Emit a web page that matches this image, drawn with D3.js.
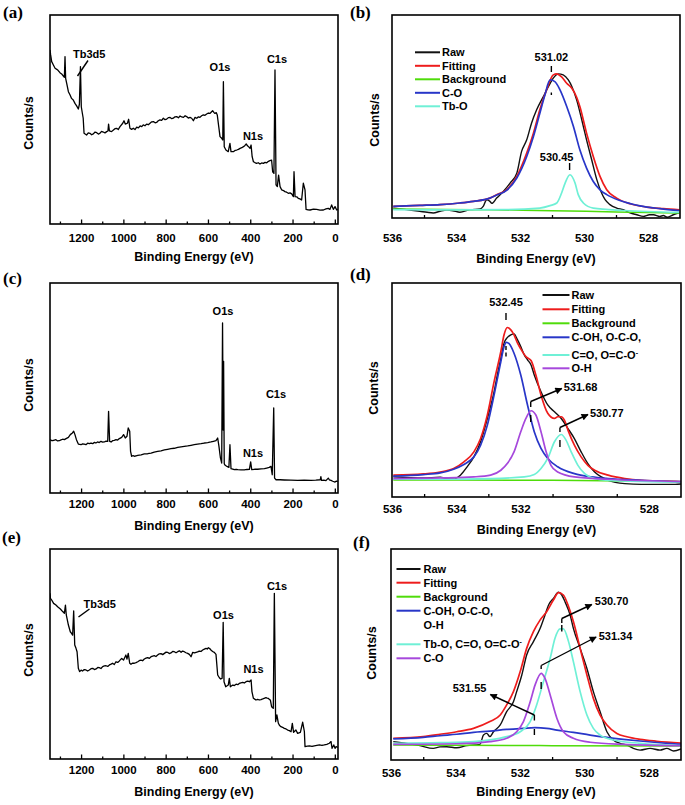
<!DOCTYPE html>
<html><head><meta charset="utf-8">
<script src="https://cdn.jsdelivr.net/npm/d3@7"></script>
<style>
body{margin:0;background:#fff}
svg{display:block}
text{font-family:"Liberation Sans",Arial,sans-serif;font-weight:bold;fill:#000}
</style>
</head><body>
<svg id="chart" width="685" height="805"></svg>
<script>
// ---------- DATA ----------
const surveyTicks = [1200, 1000, 800, 600, 400, 200, 0];
const surveyMinor = [1300, 1100, 900, 700, 500, 300, 100];
const hrTicks = [536, 534, 532, 530, 528];
const hrMinor = [535, 533, 531, 529];

// (a) survey spectrum [binding energy eV, counts (rel.)]
const surveyA = [[1347,83.3],[1344,80.9],[1339,77.7],[1331,76.1],[1323,74.5],[1315,74.0],[1308,73.4],[1300,72.4],[1292,71.8],[1284,70.8],[1279,70.2],[1276,80.1],[1273,69.7],[1268,67.3],[1260,63.3],[1252,61.7],[1245,60.1],[1237,59.3],[1229,57.7],[1221,56.5],[1213,55.0],[1208,57.3],[1203,75.3],[1199,56.1],[1194,53.0],[1190,50.6],[1186,43.4],[1174,42.6],[1166,43.6],[1158,43.4],[1150,42.7],[1142,43.1],[1134,44.0],[1126,43.7],[1118,43.0],[1111,43.4],[1103,44.3],[1095,44.0],[1087,43.6],[1079,44.2],[1073,44.5],[1070,47.8],[1066,44.5],[1056,44.2],[1047,45.0],[1040,45.6],[1032,45.8],[1024,45.2],[1016,46.6],[1003,48.2],[997,49.4],[991,47.8],[981,48.2],[975,50.1],[969,45.8],[961,45.3],[953,45.8],[945,45.2],[937,46.3],[929,46.0],[921,46.9],[913,46.6],[906,47.4],[898,47.0],[890,47.8],[882,47.5],[874,48.2],[866,48.9],[858,49.0],[850,48.4],[843,48.6],[835,49.4],[827,49.8],[819,49.6],[811,50.6],[803,49.9],[795,50.2],[787,50.9],[779,51.0],[771,50.4],[764,50.6],[756,51.3],[748,51.4],[740,50.8],[732,51.7],[724,51.2],[716,51.0],[708,51.8],[701,51.4],[693,50.7],[685,51.0],[677,50.6],[669,49.4],[661,51.0],[653,50.6],[645,51.3],[638,51.0],[630,51.8],[622,52.2],[614,52.0],[606,52.6],[598,53.1],[590,52.9],[584,53.6],[578,54.2],[572,53.4],[567,52.9],[561,53.3],[556,52.2],[549,46.6],[543,41.8],[535,41.0],[530,40.2],[527,68.1],[523,37.0],[515,35.4],[504,34.6],[496,38.6],[491,34.6],[480,34.6],[472,35.2],[464,35.4],[456,35.7],[448,36.2],[440,36.5],[432,37.0],[425,37.6],[419,38.3],[413,37.4],[408,37.0],[401,36.2],[396,37.8],[391,32.2],[385,29.8],[378,29.4],[370,29.0],[362,29.3],[354,28.7],[346,29.2],[338,29.0],[330,29.5],[322,29.3],[314,30.0],[307,30.3],[299,30.6],[294,25.0],[288,24.2],[283,73.7],[278,18.7],[272,17.9],[266,23.4],[259,17.9],[251,16.3],[243,16.0],[236,15.5],[228,15.2],[220,14.7],[212,14.9],[204,14.4],[196,13.1],[193,25.0],[188,13.1],[180,13.0],[173,12.3],[165,12.0],[157,11.5],[149,19.5],[141,16.3],[136,7.0],[127,6.8],[117,6.7],[101,7.1],[86,7.0],[70,6.6],[54,6.7],[42,7.2],[31,7.5],[23,7.0],[15,9.1],[7,7.0],[-1,8.3],[-9,6.7],[-14,7.0]];

// (c) survey spectrum
const surveyC = [[1347,25.4],[1340,25.0],[1334,24.9],[1326,25.2],[1319,25.4],[1311,24.8],[1303,24.9],[1295,25.3],[1287,25.6],[1279,25.4],[1271,25.9],[1260,26.5],[1251,27.8],[1241,28.6],[1235,29.4],[1229,27.8],[1222,25.4],[1213,23.3],[1200,23.0],[1193,23.4],[1185,23.3],[1177,23.0],[1169,23.7],[1161,23.5],[1153,23.8],[1145,23.5],[1137,24.1],[1130,23.8],[1122,24.3],[1114,24.0],[1106,24.6],[1098,24.2],[1090,24.3],[1082,24.7],[1074,24.6],[1070,38.9],[1065,24.6],[1058,24.3],[1051,24.9],[1043,25.1],[1035,25.4],[1027,25.2],[1019,25.9],[1008,26.5],[999,27.8],[991,26.2],[983,27.0],[977,31.0],[970,29.4],[966,19.8],[961,17.5],[954,17.8],[948,17.5],[940,17.7],[932,17.9],[916,18.2],[901,18.6],[885,18.7],[869,19.0],[854,19.5],[838,19.8],[822,20.1],[806,20.5],[791,20.8],[775,21.1],[759,21.3],[743,21.7],[727,22.0],[712,22.2],[696,22.4],[680,22.7],[665,23.0],[649,23.3],[633,23.5],[617,23.8],[601,24.0],[586,24.3],[574,24.6],[562,24.9],[554,26.2],[548,22.2],[541,16.7],[535,14.3],[531,81.0],[528,30.0],[526,62.7],[523,14.0],[521,13.5],[515,13.0],[510,12.7],[501,12.2],[496,23.0],[491,11.6],[483,11.4],[475,11.1],[467,11.3],[459,11.1],[444,11.0],[428,11.0],[416,11.2],[404,11.3],[398,14.8],[393,11.1],[380,11.3],[365,11.3],[349,11.5],[333,11.6],[322,11.9],[310,12.2],[302,12.7],[296,8.7],[289,40.5],[285,7.1],[278,6.3],[259,6.3],[239,6.2],[208,6.1],[176,6.0],[145,6.1],[113,6.0],[90,6.1],[69,6.3],[66,7.8],[63,6.0],[52,6.1],[42,5.9],[31,7.1],[26,6.3],[18,6.0],[10,5.6],[-1,5.2],[-6,5.6],[-14,5.5]];

// (e) survey spectrum
const surveyE = [[1347,78.9],[1345,76.5],[1339,75.7],[1330,74.1],[1319,73.3],[1311,72.5],[1298,71.4],[1287,70.2],[1279,69.4],[1274,73.3],[1270,68.6],[1260,63.8],[1251,60.6],[1245,59.8],[1240,59.0],[1235,70.5],[1230,54.3],[1224,52.7],[1219,51.1],[1213,43.2],[1207,41.6],[1200,42.3],[1193,41.9],[1185,42.6],[1177,42.4],[1169,41.9],[1161,42.4],[1153,43.0],[1145,43.2],[1137,42.6],[1129,42.9],[1121,43.6],[1114,43.5],[1106,43.1],[1098,44.0],[1090,44.3],[1082,44.4],[1074,44.1],[1066,44.8],[1058,45.2],[1051,45.6],[1043,45.0],[1035,46.3],[1027,46.0],[1019,46.7],[1008,47.9],[999,47.1],[988,49.5],[983,47.6],[977,50.3],[970,45.6],[964,45.1],[956,45.7],[948,45.6],[940,45.9],[932,46.3],[925,46.8],[917,47.1],[909,46.8],[901,47.6],[893,48.0],[885,48.3],[877,47.9],[869,48.7],[861,49.0],[854,49.2],[846,48.8],[838,49.5],[830,50.1],[822,50.2],[814,49.7],[806,50.3],[798,50.9],[791,50.8],[783,50.2],[775,50.5],[767,51.2],[759,51.1],[751,50.6],[743,51.1],[735,51.5],[727,50.8],[720,51.4],[712,51.1],[704,50.6],[696,50.3],[688,49.8],[680,48.7],[672,50.8],[664,50.5],[656,50.8],[649,51.0],[641,51.4],[633,51.2],[625,51.9],[617,52.3],[609,52.7],[603,52.4],[598,53.0],[592,52.6],[586,51.9],[578,51.2],[570,50.8],[562,49.8],[554,40.0],[546,38.7],[540,38.1],[533,38.4],[528,65.1],[524,36.8],[516,34.4],[504,35.2],[499,38.4],[494,34.4],[483,35.2],[475,35.0],[467,35.6],[459,35.4],[452,36.0],[444,36.3],[436,36.5],[428,36.2],[420,36.8],[412,37.1],[404,36.8],[396,37.6],[392,32.1],[385,28.9],[379,28.5],[373,28.1],[365,28.4],[357,28.1],[349,28.3],[341,28.6],[334,28.9],[326,29.2],[320,29.0],[315,28.9],[310,28.4],[305,28.1],[299,24.9],[291,24.1],[286,78.9],[280,17.8],[274,21.0],[267,17.0],[261,15.9],[255,15.4],[247,15.1],[239,14.6],[231,14.3],[223,13.8],[215,13.5],[207,13.0],[201,17.0],[195,12.7],[184,13.8],[176,12.2],[163,12.7],[152,17.5],[144,13.0],[141,5.9],[130,6.1],[120,6.2],[108,6.0],[97,6.3],[85,6.5],[73,6.7],[61,6.5],[50,6.7],[38,7.0],[26,7.5],[18,8.3],[13,5.1],[5,6.7],[-1,5.1],[-6,5.9],[-14,5.5]];

// (b) O1s high resolution
const bRaw = [[535.96,4.9],[535.54,4.1],[535.13,3.3],[534.90,2.8],[534.71,2.5],[534.50,3.3],[534.29,3.9],[534.10,3.6],[533.88,2.8],[533.56,4.1],[533.25,4.4],[533.15,5.7],[533.04,9.0],[532.94,8.2],[532.88,7.2],[532.73,9.8],[532.52,13.1],[532.31,17.2],[532.10,22.1],[531.95,32.8],[531.79,38.5],[531.64,46.7],[531.48,53.3],[531.27,59.8],[531.11,64.8],[530.96,68.9],[530.80,71.0],[530.65,70.5],[530.49,68.0],[530.38,64.8],[530.23,58.2],[530.07,48.4],[529.92,38.5],[529.76,28.7],[529.60,18.9],[529.45,12.3],[529.34,9.0],[529.19,6.6],[528.98,4.9],[528.77,4.1],[528.56,2.5],[528.35,1.6],[528.15,0.8],[527.95,1.6],[527.83,1.6],[527.63,0.8],[527.52,1.2],[527.40,0.4],[527.21,1.6],[527.02,2.5]];
const bFit = [[535.96,5.7],[535.13,6.2],[534.50,6.6],[533.88,7.4],[533.46,8.2],[532.94,9.8],[532.73,11.5],[532.42,13.9],[532.10,20.5],[531.79,32.0],[531.58,41.8],[531.38,53.3],[531.17,63.1],[530.96,70.5],[530.85,71.0],[530.70,69.5],[530.54,66.4],[530.38,63.9],[530.23,59.5],[530.13,54.9],[529.92,41.8],[529.71,30.3],[529.50,20.5],[529.29,13.9],[528.98,9.8],[528.56,7.0],[528.04,5.4],[527.52,4.6],[527.02,4.0]];
const bBackground = [[535.96,4.4],[533.5,4.1],[531.0,3.6],[529.0,3.0],[527.02,2.5]];
const bCO = [[535.96,5.7],[535.13,6.2],[534.50,6.6],[533.88,7.4],[533.46,8.2],[532.94,9.8],[532.73,11.3],[532.42,13.6],[532.10,19.7],[531.79,30.3],[531.58,40.2],[531.38,51.6],[531.22,60.7],[531.06,68.0],[530.91,67.2],[530.75,63.1],[530.54,54.9],[530.33,45.1],[530.13,33.6],[529.92,24.6],[529.71,18.0],[529.50,13.9],[529.29,11.5],[528.88,8.6],[528.25,6.0],[527.63,4.6],[527.02,3.6]];
const bTbO = [[535.96,4.1],[534.0,4.0],[532.5,4.1],[531.38,4.9],[531.06,6.1],[530.85,7.4],[530.70,12.3],[530.59,17.2],[530.44,21.3],[530.28,17.2],[530.18,11.5],[530.02,7.4],[529.71,4.9],[528.77,3.7],[527.02,2.8]];
const bPeaks = [531.02, 530.45];

// (d) O1s high resolution
const dRaw = [[535.96,9.4],[535.02,8.9],[534.50,9.2],[534.29,8.6],[534.08,8.4],[533.87,10.2],[533.66,14.1],[533.45,18.75],[533.24,25.8],[533.03,36.7],[532.82,49.2],[532.72,57.0],[532.61,64.8],[532.51,71.9],[532.41,74.5],[532.30,75.8],[532.20,76.25],[532.09,73.4],[531.99,70.3],[531.88,66.4],[531.78,64.1],[531.67,61.7],[531.57,57.0],[531.36,49.2],[531.15,43.0],[530.94,39.8],[530.73,36.7],[530.52,32.0],[530.32,27.3],[530.11,21.1],[529.90,15.6],[529.69,11.7],[529.48,9.4],[529.27,7.8],[528.75,6.25],[528.23,5.9],[527.70,5.9],[527.18,5.9],[527.0,6.1]];
const dFit = [[535.96,10.2],[535.02,10.8],[534.50,11.7],[534.08,13.3],[533.76,16.4],[533.45,21.1],[533.24,27.3],[533.03,38.3],[532.82,53.9],[532.61,68.0],[532.51,75.8],[532.41,79.2],[532.30,78.1],[532.20,75.8],[532.09,71.9],[531.99,69.2],[531.83,65.6],[531.67,63.75],[531.52,57.0],[531.36,47.7],[531.15,39.1],[530.94,36.7],[530.84,37.5],[530.73,37.5],[530.63,35.9],[530.52,31.25],[530.32,24.2],[530.11,18.75],[529.90,14.8],[529.69,12.5],[529.27,10.2],[528.75,8.6],[528.23,7.8],[527.18,7.3],[527.0,7.0]];
const dBackground = [[535.96,8.0],[531.0,7.8],[527.0,7.3]];
const dCOH = [[535.96,9.8],[535.02,10.5],[534.50,11.25],[534.08,13.0],[533.76,15.2],[533.45,18.75],[533.24,24.2],[533.03,33.6],[532.82,47.7],[532.61,63.3],[532.51,70.3],[532.44,72.3],[532.35,71.6],[532.20,67.2],[531.99,57.0],[531.78,43.0],[531.57,30.5],[531.36,22.7],[531.15,18.0],[530.84,14.1],[530.32,10.9],[529.79,9.4],[529.27,8.6],[528.23,7.8],[527.0,7.0]];
const dCO = [[535.96,8.3],[534.50,8.3],[532.93,8.6],[531.88,9.4],[531.57,10.5],[531.36,13.3],[531.15,18.0],[530.94,25.8],[530.73,29.2],[530.58,26.6],[530.42,21.1],[530.21,14.8],[530.0,10.9],[529.69,8.6],[529.27,7.8],[527.0,7.0]];
const dOH = [[535.96,8.6],[534.50,8.9],[533.45,9.4],[532.93,10.2],[532.61,12.5],[532.41,15.6],[532.20,21.1],[531.99,30.5],[531.83,36.7],[531.67,40.3],[531.52,38.3],[531.36,30.5],[531.20,21.1],[531.05,14.8],[530.84,11.7],[530.32,9.4],[529.27,8.3],[527.0,7.3]];
const dPeaks = [532.45, 531.68, 530.77];

// (f) O1s high resolution
const fRaw = [[535.93,8.7],[535.51,7.9],[535.10,6.8],[534.69,5.5],[534.48,6.2],[534.27,6.3],[533.96,5.8],[533.65,6.8],[533.24,7.4],[533.13,11.8],[533.03,12.6],[532.93,11.1],[532.82,13.4],[532.61,16.6],[532.41,22.9],[532.20,27.6],[532.10,32.4],[531.94,40.3],[531.79,49.8],[531.58,56.1],[531.37,62.4],[531.22,68.7],[531.11,73.5],[530.96,76.6],[530.80,79.5],[530.70,78.2],[530.60,75.0],[530.44,68.7],[530.34,62.4],[530.13,52.9],[529.92,43.4],[529.72,32.4],[529.51,22.9],[529.30,13.4],[529.10,9.5],[528.89,7.9],[528.68,7.1],[528.48,5.5],[528.27,4.7],[527.96,5.5],[527.65,4.7],[527.44,5.5],[527.23,4.3],[527.0,5.2]];
const fFit = [[535.93,10.3],[535.0,11.1],[534.48,12.2],[533.96,13.4],[533.44,15.0],[532.93,18.2],[532.61,21.3],[532.41,26.1],[532.20,32.4],[531.99,41.9],[531.79,52.9],[531.58,60.8],[531.37,66.4],[531.17,70.3],[530.96,75.8],[530.80,79.3],[530.65,78.2],[530.49,72.7],[530.34,65.6],[530.13,52.9],[529.92,40.3],[529.72,29.2],[529.51,21.3],[529.30,16.6],[528.99,12.6],[528.68,11.0],[528.27,9.8],[527.75,8.9],[527.0,8.0]];
const fBackground = [[535.93,7.1],[531.0,6.8],[527.0,6.6]];
const fCOH = [[535.93,10.0],[535.0,10.7],[534.48,11.5],[533.96,12.2],[533.44,13.1],[532.93,13.7],[532.41,14.5],[531.89,15.0],[531.53,15.3],[531.17,15.0],[530.85,14.2],[530.34,13.1],[529.82,11.8],[529.30,10.7],[528.79,9.8],[528.27,9.0],[527.75,8.3],[527.0,7.4]];
const fTbO = [[535.93,7.9],[534.48,8.2],[533.44,8.7],[532.93,9.5],[532.41,11.1],[531.99,13.4],[531.68,18.2],[531.48,26.1],[531.27,37.1],[531.06,48.2],[530.91,57.7],[530.75,62.1],[530.65,62.1],[530.49,56.1],[530.34,46.6],[530.13,32.4],[529.92,21.3],[529.72,15.0],[529.51,11.8],[529.10,9.5],[528.27,7.9],[527.0,6.8]];
const fCO = [[535.93,7.4],[533.96,7.7],[532.93,8.7],[532.41,10.3],[532.10,13.4],[531.89,18.2],[531.68,27.6],[531.53,35.5],[531.34,41.1],[531.22,38.7],[531.06,30.8],[530.85,19.7],[530.65,13.4],[530.34,10.3],[529.82,8.4],[528.79,7.4],[527.0,6.8]];
const fPeaks = [530.70, 531.34, 531.55];

// ---------- STYLE ----------
const C = {raw:'#111111', fit:'#ee1c1c', bg:'#4fdc0a', blue:'#2836c8', cyan:'#6ff0d6', purple:'#a648dc'};

const svg = d3.select('#chart');
const defs = svg.append('defs');
defs.append('marker').attr('id','arrow').attr('viewBox','0 0 10 10').attr('refX',9).attr('refY',5)
  .attr('markerWidth',8).attr('markerHeight',7).attr('markerUnits','userSpaceOnUse').attr('orient','auto')
  .append('path').attr('d','M0,0L10,5L0,10z').attr('fill','#000');

function panel(p){
  const x = d3.scaleLinear().domain(p.domain).range([p.left,p.right]);
  const y = d3.scaleLinear().domain([0,100]).range([p.bottom,p.top]);
  const g = svg.append('g');
  const cid = 'clip-'+p.id;
  defs.append('clipPath').attr('id',cid).append('rect')
    .attr('x',p.left).attr('y',p.top).attr('width',p.right-p.left).attr('height',p.bottom-p.top);
  const plot = g.append('g').attr('clip-path',`url(#${cid})`);
  p.series.forEach(s=>{
    plot.append('path').datum(s.data)
      .attr('d', d3.line().x(d=>x(d[0])).y(d=>y(d[1])).curve(s.curve||d3.curveLinear))
      .attr('fill','none').attr('stroke',s.color).attr('stroke-width',s.width).attr('stroke-linejoin','round');
  });
  // axes
  const ax = g.append('g').attr('transform',`translate(0,${p.bottom})`)
    .call(d3.axisBottom(x).tickValues(p.ticks).tickSize(-p.majorLen).tickPadding(p.pad).tickFormat(d3.format('d')));
  ax.select('.domain').remove();
  ax.selectAll('line').attr('stroke','#000').attr('stroke-width',1.3);
  ax.selectAll('text').attr('font-size',11.5).attr('font-family','"Liberation Sans",Arial,sans-serif').attr('font-weight','bold').attr('fill','#000');
  const mx = g.append('g').attr('transform',`translate(0,${p.bottom})`)
    .call(d3.axisBottom(x).tickValues(p.minor).tickSize(-p.minorLen).tickFormat(''));
  mx.select('.domain').remove();
  mx.selectAll('line').attr('stroke','#000').attr('stroke-width',1.3);
  // frame
  g.append('rect').attr('x',p.left).attr('y',p.top).attr('width',p.right-p.left).attr('height',p.bottom-p.top)
    .attr('fill','none').attr('stroke','#000').attr('stroke-width',1.6);
  // titles
  g.append('text').attr('x',(p.left+p.right)/2).attr('y',p.xTitleY).attr('text-anchor','middle')
    .attr('font-size',12.5).text('Binding Energy (eV)');
  g.append('text').attr('transform',`translate(${p.yTitle[0]},${p.yTitle[1]}) rotate(-90)`)
    .attr('text-anchor','middle').attr('dy','0.35em').attr('font-size',12.5).text('Counts/s');
  g.append('text').attr('x',p.tag[0]).attr('y',p.tag[1]).attr('font-size',17)
    .style('font-family','"Liberation Serif","Times New Roman",serif').text(p.tag[2]);
  return {x,y,g};
}

function label(g, txt, x, y, anchor){
  return g.append('text').attr('x',x).attr('y',y).attr('text-anchor',anchor||'middle').attr('font-size',11).text(txt);
}
function seg(g,x1,y1,x2,y2,arrow){
  const l = g.append('line').attr('x1',x1).attr('y1',y1).attr('x2',x2).attr('y2',y2)
    .attr('stroke','#000').attr('stroke-width',1.4);
  if(arrow) l.attr('marker-end','url(#arrow)');
  return l;
}
function legend(g, items, x1, x2, tx){
  items.forEach(it=>{
    if(it.color) g.append('line').attr('x1',x1).attr('x2',x2).attr('y1',it.y).attr('y2',it.y)
      .attr('stroke',it.color).attr('stroke-width',2);
    const t = g.append('text').attr('x',tx).attr('y',it.y).attr('dy','0.36em').attr('font-size',11);
    t.append('tspan').text(it.text);
    if(it.sup) t.append('tspan').attr('dy','-0.55em').attr('font-size',7).text(it.sup);
  });
}

// ---------- PANELS ----------
const surveyBase = {domain:[1347,-15], ticks:surveyTicks, minor:surveyMinor, majorLen:4.5, minorLen:2.5, left:50, right:338};
const hrBase = {domain:[536,527], ticks:hrTicks, minor:hrMinor, majorLen:0, minorLen:3};
const fitSeries = (raw, fit, bg, comps) => [
  {data:raw, color:C.raw, width:1.4, curve:d3.curveMonotoneX},
  {data:fit, color:C.fit, width:1.7, curve:d3.curveMonotoneX},
  {data:bg, color:C.bg, width:1.5, curve:d3.curveMonotoneX},
  ...comps.map(c=>({data:c[0], color:c[1], width:1.7, curve:d3.curveMonotoneX}))
];

// (a)
const pa = panel({...surveyBase, id:'a', top:15, bottom:224, pad:10, xTitleY:261,
  yTitle:[28.5,123], tag:[3,18,'(a)'], series:[{data:surveyA,color:'#000',width:1.3}]});
label(pa.g,'Tb3d5',73,58,'start'); seg(pa.g,88,60.5,77.5,76);
label(pa.g,'O1s',220,71); label(pa.g,'C1s',277,62.5); label(pa.g,'N1s',253,139.5);

// (b)
const pb = panel({...hrBase, id:'b', left:392, right:680, top:15, bottom:218, pad:16, xTitleY:262.5,
  yTitle:[375,120], tag:[350,18,'(b)'],
  series:fitSeries(bRaw,bFit,bBackground,[[bCO,C.blue],[bTbO,C.cyan]])});
legend(pb.g,[{text:'Raw',color:C.raw,y:52.3},{text:'Fitting',color:C.fit,y:65.8},{text:'Background',color:C.bg,y:79.3},
  {text:'C-O',color:C.blue,y:92.8},{text:'Tb-O',color:C.cyan,y:106.3}],415,440,442);
{
  const x=pb.x;
  label(pb.g,bPeaks[0].toFixed(2),x(bPeaks[0]),61);
  seg(pb.g,x(bPeaks[0]),66,x(bPeaks[0]),72); seg(pb.g,x(bPeaks[0]),92.5,x(bPeaks[0]),95);
  label(pb.g,bPeaks[1].toFixed(2),x(bPeaks[1])-13,160.5);
  seg(pb.g,x(bPeaks[1]),163,x(bPeaks[1]),170);
}

// (c)
const pc = panel({...surveyBase, id:'c', top:283, bottom:493, pad:7, xTitleY:529.5,
  yTitle:[28.5,385], tag:[3,284,'(c)'], series:[{data:surveyC,color:'#000',width:1.3}]});
label(pc.g,'O1s',223,315); label(pc.g,'C1s',276,398); label(pc.g,'N1s',253,457);

// (d)
const pd = panel({...hrBase, id:'d', left:392, right:681, top:283, bottom:497, pad:7.5, xTitleY:534,
  yTitle:[373.5,388], tag:[350,279.5,'(d)'],
  series:fitSeries(dRaw,dFit,dBackground,[[dCOH,C.blue],[dCO,C.cyan],[dOH,C.purple]])});
legend(pd.g,[{text:'Raw',color:C.raw,y:295},{text:'Fitting',color:C.fit,y:309.3},{text:'Background',color:C.bg,y:323.3},
  {text:'C-OH, O-C-O,',color:C.blue,y:337.3},{text:'C=O, O=C-O',sup:'-',color:C.cyan,y:355},{text:'O-H',color:C.purple,y:368.3}],542.5,569.5,571.5);
{
  const x=pd.x, g=pd.g;
  label(g,dPeaks[0].toFixed(2),x(dPeaks[0]),305.5);
  seg(g,x(dPeaks[0]),313,x(dPeaks[0]),320); seg(g,x(dPeaks[0]),346,x(dPeaks[0]),350); seg(g,x(dPeaks[0]),352.5,x(dPeaks[0]),356.5);
  seg(g,x(dPeaks[1]),401.5,x(dPeaks[1]),407); seg(g,x(dPeaks[1]),401.5,x(dPeaks[1])+31,388.5,true);
  label(g,dPeaks[1].toFixed(2),x(dPeaks[1])+33,390.5,'start'); seg(g,x(dPeaks[1]),415,x(dPeaks[1]),422);
  seg(g,x(dPeaks[2]),427.5,x(dPeaks[2]),432); seg(g,x(dPeaks[2]),427.5,x(dPeaks[2])+28,414.5,true);
  label(g,dPeaks[2].toFixed(2),x(dPeaks[2])+30,417,'start'); seg(g,x(dPeaks[2]),440,x(dPeaks[2]),447);
}

// (e)
const pe = panel({...surveyBase, id:'e', top:549, bottom:759, pad:7, xTitleY:796,
  yTitle:[28.5,650], tag:[2,543,'(e)'], series:[{data:surveyE,color:'#000',width:1.3}]});
label(pe.g,'Tb3d5',83.5,608,'start'); seg(pe.g,89.5,609,78.5,617);
label(pe.g,'O1s',223.5,619); label(pe.g,'C1s',277,590); label(pe.g,'N1s',253.5,673);

// (f)
const pf = panel({...hrBase, id:'f', left:391, right:681, top:549, bottom:760, pad:9, xTitleY:796,
  yTitle:[372,653], tag:[353,548,'(f)'],
  series:fitSeries(fRaw,fFit,fBackground,[[fCOH,C.blue],[fTbO,C.cyan],[fCO,C.purple]])});
legend(pf.g,[{text:'Raw',color:C.raw,y:569},{text:'Fitting',color:C.fit,y:582.7},{text:'Background',color:C.bg,y:596.7},
  {text:'C-OH, O-C-O,',color:C.blue,y:610.7},{text:'O-H',y:625},{text:'Tb-O, C=O, O=C-O',sup:'-',color:C.cyan,y:644.3},
  {text:'C-O',color:C.purple,y:658.3}],396.5,420.5,423.5);
{
  const x=pf.x, g=pf.g;
  seg(g,x(fPeaks[0]),618.5,x(fPeaks[0]),623); seg(g,x(fPeaks[0]),618.5,x(fPeaks[0])+30,604.5,true);
  label(g,fPeaks[0].toFixed(2),x(fPeaks[0])+33,605,'start'); seg(g,x(fPeaks[0]),625,x(fPeaks[0]),631.5);
  seg(g,x(fPeaks[1]),665.5,x(fPeaks[1]),669); seg(g,x(fPeaks[1]),665.5,x(fPeaks[1])+55,637,true);
  label(g,fPeaks[1].toFixed(2),x(fPeaks[1])+57.5,639.5,'start'); seg(g,x(fPeaks[1]),682,x(fPeaks[1]),689);
  seg(g,x(fPeaks[2]),715,x(fPeaks[2]),720.5); seg(g,x(fPeaks[2]),715,x(fPeaks[2])-44,694.5,true);
  label(g,fPeaks[2].toFixed(2),x(fPeaks[2])-48,691.5,'end'); seg(g,x(fPeaks[2]),729,x(fPeaks[2]),735);
}
</script>
</body></html>
